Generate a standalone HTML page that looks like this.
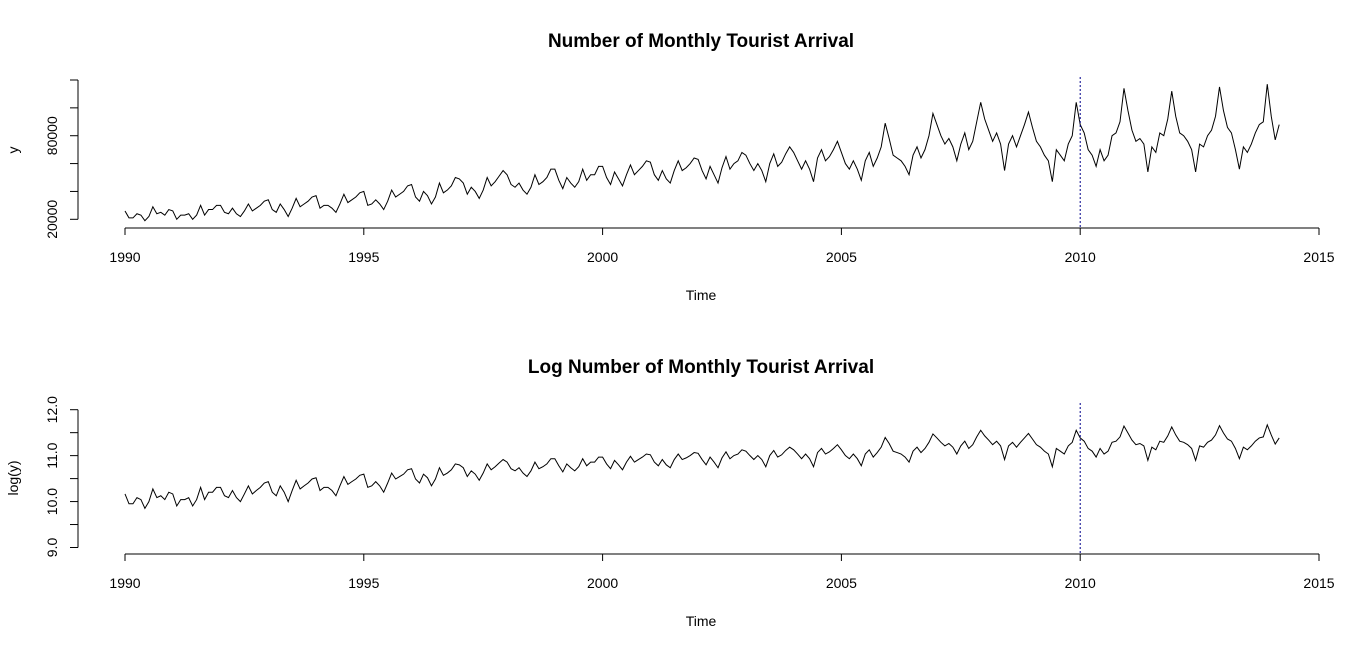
<!DOCTYPE html>
<html><head><meta charset="utf-8"><style>
body{margin:0;background:#fff;}
svg{display:block;font-family:"Liberation Sans",Arial,sans-serif;}
</style></head><body>
<svg id="c" width="1366" height="651"></svg>
<script>
const startYear = 1990;
const values = [
26,21,21,24,23,19,22,29,24,25,23,27,
26,20,23,23,24,20,23,30,23,27,27,30,
30,25,24,28,24,22,26,31,26,28,30,33,
34,27,25,31,27,22,28,35,29,31,33,36,
37,28,30,30,28,25,31,38,32,34,36,39,
40,30,31,34,31,27,33,41,36,38,40,44,
45,36,33,40,37,31,36,46,39,41,44,50,
49,46,38,43,40,35,41,50,44,47,51,55,
52,45,43,46,41,38,43,52,45,47,50,56,
56,48,42,50,46,43,47,56,48,52,52,58,
58,50,45,54,49,44,52,59,52,55,58,62,
61,52,48,55,49,46,55,62,55,57,60,64,
63,55,49,58,52,46,57,65,56,60,62,68,
66,60,55,60,55,47,60,67,58,61,67,72,
68,62,56,62,56,47,64,70,62,65,70,76,
68,60,56,62,56,48,62,68,58,64,72,89,
78,66,64,62,58,52,66,72,64,70,80,96,
88,80,74,78,72,62,74,82,70,76,90,104,
92,84,76,82,74,55,74,80,72,80,88,97,
86,76,72,66,62,47,70,66,62,74,80,104,
88,82,70,66,58,70,62,66,80,82,90,114,
98,84,76,78,74,54,72,68,82,80,92,112,
94,82,80,76,70,54,74,72,80,84,94,115,
98,86,82,70,56,72,68,74,82,88,90,117,
94,77,88
].map(v=>v*1000);
const xTicks = [1990,1995,2000,2005,2010,2015];
const yTicksTop = [20000,40000,60000,80000,100000,120000];
const yLabelsTop = ["20000","","","80000","",""];
const yTicksBot = [9,9.5,10,10.5,11,11.5,12];
const yLabelsBot = ["9.0","","10.0","","11.0","","12.0"];
const vline = 2010;

const svg=document.getElementById('c');
const NS='http://www.w3.org/2000/svg';
function mk(t,a,p){const e=document.createElementNS(NS,t);for(const k in a)e.setAttribute(k,a[k]);(p||svg).appendChild(e);return e;}
const X=t=>125+(t-1990)*(1319-125)/25;

function panel(o){
  const g=mk('g',{});
  
  
  const Y=v=>o.y0+(v-o.v0)*(o.y1-o.y0)/(o.v1-o.v0);
  const tt=mk('text',{x:701,y:o.titleY,'text-anchor':'middle','font-size':19,'font-weight':'bold'},g);tt.textContent=o.title;
  
  
  const ax=mk('g',{},g);
  
  
  mk('line',{x1:X(1990),x2:X(2015),y1:o.axY,y2:o.axY,stroke:'#000'},ax);
  xTicks.forEach(t=>{mk('line',{x1:X(t),x2:X(t),y1:o.axY,y2:o.axY+7,stroke:'#000'},ax);
    const l=mk('text',{x:X(t),y:o.axY+34,'text-anchor':'middle','font-size':14},ax);l.textContent=t;});
  const xl=mk('text',{x:701,y:o.axY+72,'text-anchor':'middle','font-size':14},g);xl.textContent='Time';
  
  
  const ay=mk('g',{},g);
  
  
  const yt=o.ticks;
  mk('line',{x1:78,x2:78,y1:Y(yt[0]),y2:Y(yt[yt.length-1]),stroke:'#000'},ay);
  yt.forEach((t,i)=>{mk('line',{x1:70,x2:78,y1:Y(t),y2:Y(t),stroke:'#000'},ay);
    if(o.labels[i]){const l=mk('text',{x:0,y:0,'text-anchor':'middle','font-size':14,transform:`translate(57,${Y(t)}) rotate(-90)`},ay);l.textContent=o.labels[i];}});
  const yl=mk('text',{x:0,y:0,'text-anchor':'middle','font-size':14,transform:`translate(18,${o.ylabY}) rotate(-90)`},g);yl.textContent=o.ylab;
  
  
  let d='';values.forEach((v,i)=>{d+=(i?'L':'M')+X(startYear+i/12).toFixed(2)+','+Y(o.f(v)).toFixed(2);});
  const p=mk('path',{d:d,fill:'none',stroke:'#000','stroke-width':1},g);
  
  
  const vl=mk('line',{x1:X(vline),x2:X(vline),y1:o.vTop,y2:o.vBot,stroke:'#00008b','stroke-dasharray':'2,2'},g);
  
  
}
panel({name:'top-panel',title:'Number of Monthly Tourist Arrival',titleY:47,axY:228,v0:20000,y0:219.3,v1:120000,y1:80,ticks:yTicksTop,labels:yLabelsTop,ylab:'y',ylabY:150,f:v=>v,vTop:77,vBot:228});
panel({name:'bottom-panel',title:'Log Number of Monthly Tourist Arrival',titleY:373,axY:554,v0:9,y0:547.5,v1:12,y1:409.7,ticks:yTicksBot,labels:yLabelsBot,ylab:'log(y)',ylabY:478,f:v=>Math.log(v),vTop:403,vBot:554});
</script>
</body></html>
